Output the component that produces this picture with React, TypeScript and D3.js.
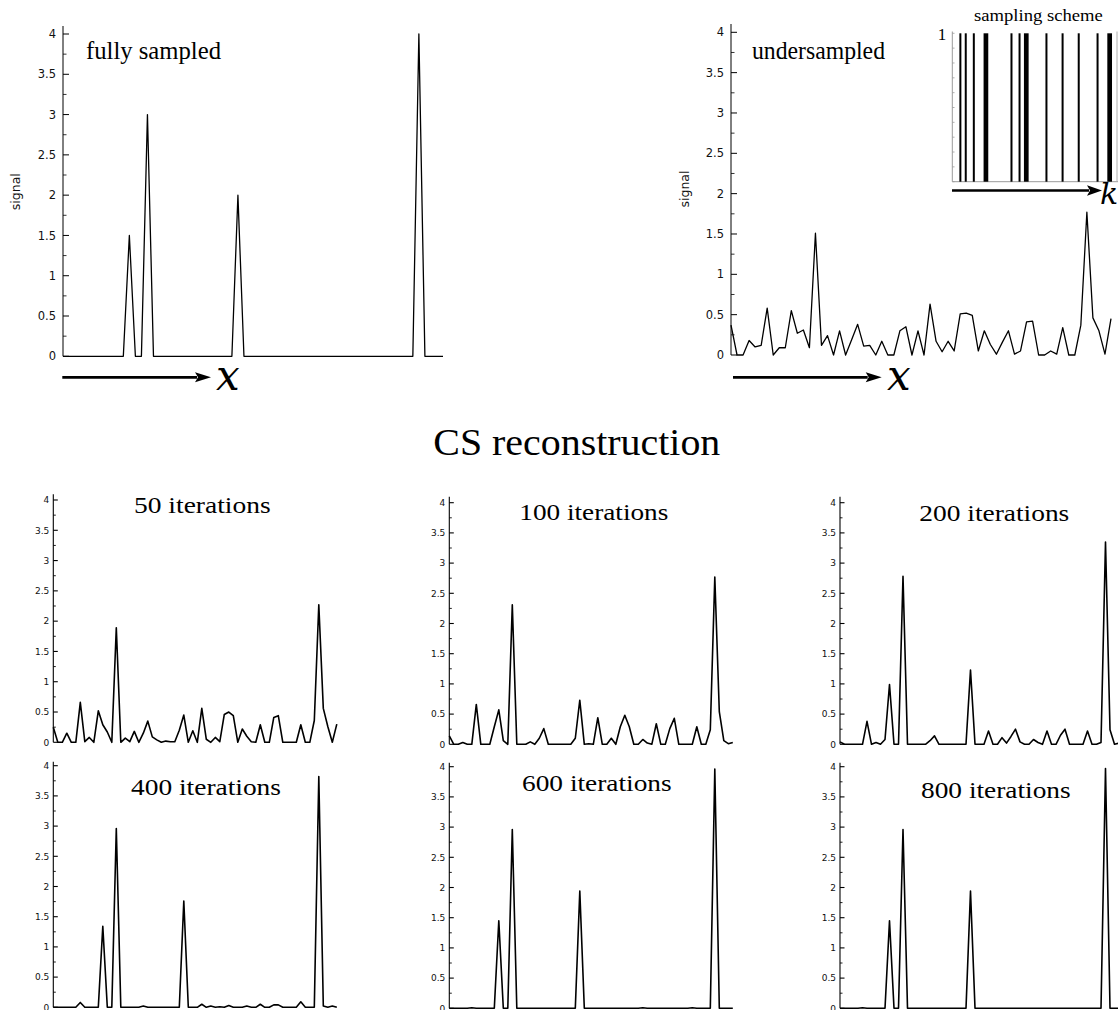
import React from 'react';
import * as d3 from 'd3';

const N = 64;

const fullySampled = [0,0,0,0,0,0,0,0,0,0,0,1.5,0,0,3,0,0,0,0,0,0,0,0,0,0,0,0,0,0,2,0,0,0,0,0,0,0,0,0,0,0,0,0,0,0,0,0,0,0,0,0,0,0,0,0,0,0,0,0,4,0,0,0,0];
const undersampled = [0.37,0,0,0.18,0.1,0.12,0.58,0,0.09,0.09,0.55,0.27,0.31,0.09,1.51,0.12,0.24,0,0.3,0,0.19,0.38,0.11,0.12,0,0.17,0,0,0.3,0.35,0,0.3,0,0.63,0.17,0.04,0.17,0.05,0.51,0.52,0.49,0.05,0.3,0.13,0.01,0.16,0.3,0.01,0.05,0.41,0.42,0,0,0.05,0.01,0.34,0,0,0.37,1.77,0.46,0.3,0.01,0.45];
const iter50 = [0.25,0,0,0.15,0,0,0.66,0.01,0.08,0,0.52,0.29,0.17,0,1.89,0,0.07,0.01,0.18,0,0.15,0.35,0.09,0.04,0,0.02,0.01,0.01,0.2,0.45,0,0.19,0,0.56,0.05,0,0.08,0.01,0.46,0.5,0.44,0,0.22,0.1,0.01,0,0.29,0,0,0.41,0.44,0,0,0,0,0.29,0,0,0.36,2.27,0.56,0.26,0,0.3];
const iter100 = [0.14,0,0,0.03,0,0,0.66,0,0,0,0.29,0.57,0.06,0,2.31,0,0,0,0.04,0,0.1,0.26,0,0,0,0,0,0,0.1,0.73,0,0.01,0,0.44,0,0,0.1,0,0.29,0.48,0.29,0,0,0.08,0.02,0,0.34,0,0,0.26,0.43,0,0,0,0,0.29,0,0,0.24,2.77,0.54,0.06,0.01,0.03];
const iter200 = [0.04,0,0,0,0,0,0.38,0,0.03,0,0.08,0.99,0,0,2.78,0,0,0,0,0,0.06,0.14,0,0,0,0,0,0,0,1.23,0,0,0,0.22,0,0,0.11,0.02,0.13,0.25,0.04,0,0,0.08,0.03,0,0.22,0,0,0.15,0.25,0,0,0,0,0.22,0,0,0.03,3.35,0.24,0,0.02,0];
const iter400 = [0,0,0,0,0,0,0.08,0,0,0,0,1.34,0,0,2.96,0,0,0,0,0,0.02,0,0,0,0,0,0,0,0,1.76,0,0,0,0.05,0,0.02,0,0.01,0,0.03,0,0,0,0.02,0,0,0.05,0,0,0.04,0.04,0,0,0,0,0.09,0,0,0,3.82,0.02,0,0.02,0];
const iter600 = [0,0,0,0,0,0.01,0,0,0,0,0,1.45,0,0,2.96,0,0,0,0,0,0,0,0,0,0,0,0,0,0,1.94,0,0,0,0,0,0,0,0,0,0,0,0,0,0.01,0,0,0,0,0,0,0,0,0,0,0.01,0,0,0,0,3.96,0,0,0,0];
const iter800 = [0,0,0,0,0,0.01,0,0,0,0,0,1.45,0,0,2.96,0,0,0,0,0,0,0,0,0,0,0,0,0,0,1.94,0,0,0,0,0,0,0,0,0,0,0,0,0,0,0,0,0,0,0,0,0,0,0,0,0,0,0,0,0,3.97,0,0,0,0];

const sampledK = [3,5,8,12,13,22,25,27,28,35,41,47,54,58,59];

const yMajor = [0,0.5,1,1.5,2,2.5,3,3.5,4];
const yMajorLabels = ["0","0.5","1","1.5","2","2.5","3","3.5","4"];
const yMinor = [0.25,0.75,1.25,1.75,2.25,2.75,3.25,3.75];
const insetTicks = [0,0.1,0.2,0.3,0.4,0.5,0.6,0.7,0.8,0.9,1];

const SANS = "'DejaVu Sans', sans-serif";
const SERIF = "'Liberation Serif', serif";
const ITALIC = "'DejaVu Serif', serif";

type PanelProps = {
  values: number[]; x0: number; x1: number; yZero: number; yFour: number; axisTop: number;
  fontSize: number; majorLen: number; minorLen: number; labelGap: number; lineWidth: number; axisWidth: number;
};

function SignalPanel(p: PanelProps) {
  const x = d3.scaleLinear().domain([0, N - 1]).range([p.x0, p.x1]);
  const y = d3.scaleLinear().domain([0, 4]).range([p.yZero, p.yFour]);
  const line = d3.line<number>().x((_, i) => x(i)).y(d => y(d));
  return (
    <g>
      <line x1={p.x0} x2={p.x0} y1={p.axisTop} y2={p.yZero} stroke="#000" strokeWidth={p.axisWidth} />
      {yMajor.map((t, i) => (
        <g key={'M' + t}>
          <line x1={p.x0} x2={p.x0 + p.majorLen} y1={y(t)} y2={y(t)} stroke="#000" strokeWidth={p.axisWidth} />
          <text x={p.x0 - p.labelGap} y={y(t)} dy="0.36em" textAnchor="end" fontSize={p.fontSize} fontFamily={SANS} fill="#111">{yMajorLabels[i]}</text>
        </g>
      ))}
      {yMinor.map(t => (
        <line key={'m' + t} x1={p.x0} x2={p.x0 + p.minorLen} y1={y(t)} y2={y(t)} stroke="#000" strokeWidth={p.axisWidth * 0.8} />
      ))}
      <path d={line(p.values) || ''} fill="none" stroke="#000" strokeWidth={p.lineWidth} strokeLinejoin="round" />
    </g>
  );
}

function Arrow({ x1, tip, y, headLen, headHalf, width }: { x1: number; tip: number; y: number; headLen: number; headHalf: number; width: number }) {
  return (
    <g>
      <line x1={x1} x2={tip - headLen + 2} y1={y} y2={y} stroke="#000" strokeWidth={width} />
      <path d={`M${tip},${y} L${tip - headLen},${y - headHalf} L${tip - headLen + 3},${y} L${tip - headLen},${y + headHalf} Z`} fill="#000" />
    </g>
  );
}

function Inset() {
  const x = d3.scaleLinear().domain([0, N - 1]).range([952.3, 952.3 + 63 * 2.69]);
  const y = d3.scaleLinear().domain([0, 1]).range([181.7, 33.3]);
  const runs: [number, number][] = [];
  sampledK.forEach(k => {
    const last = runs[runs.length - 1];
    if (last && k === last[1] + 1) last[1] = k; else runs.push([k, k]);
  });
  return (
    <g>
      <line x1={952.3} x2={952.3} y1={31.5} y2={181.7} stroke="#9a9a9a" strokeWidth={1} />
      <line x1={952.3} x2={1118} y1={181.7} y2={181.7} stroke="#9a9a9a" strokeWidth={1} />
      <line x1={1117} x2={1117} y1={31.5} y2={181.7} stroke="#b0b0b0" strokeWidth={1} />
      {insetTicks.map(t => (
        <line key={t} x1={952.3} x2={954.5} y1={y(t)} y2={y(t)} stroke="#9a9a9a" strokeWidth={0.8} />
      ))}
      {runs.map(([a, b]) => (
        <rect key={a} x={x(a) - 1} y={y(1)} width={x(b) - x(a) + 2} height={y(0) - y(1)} fill="#000" />
      ))}
      <text x={942} y={40} textAnchor="middle" fontSize={17} fontFamily={SERIF}>1</text>
      <text x={974} y={21} fontSize={16} fontFamily={SERIF} textLength={128.7} lengthAdjust="spacingAndGlyphs">sampling scheme</text>
      <Arrow x1={952} tip={1102} y={190.5} headLen={15} headHalf={5.3} width={2.7} />
      <text x={1100} y={204} fontSize={30} fontStyle="italic" fontFamily={ITALIC}>k</text>
    </g>
  );
}

const topCommon = { fontSize: 11.5, majorLen: 6, minorLen: 3.5, labelGap: 7, lineWidth: 1.3, axisWidth: 1 };
const botCommon = { fontSize: 9, majorLen: 4.5, minorLen: 2.5, labelGap: 4, lineWidth: 1.6, axisWidth: 1.1 };
const bw = 63 * 4.5;

const titles = [
  { text: "50 iterations", x: 134, y: 512.7, len: 136.7 },
  { text: "100 iterations", x: 519.3, y: 520, len: 149 },
  { text: "200 iterations", x: 919.3, y: 520.5, len: 150 },
  { text: "400 iterations", x: 131, y: 794.5, len: 150 },
  { text: "600 iterations", x: 522, y: 790.8, len: 149.7 },
  { text: "800 iterations", x: 921, y: 798.3, len: 149.7 },
];

export default function App() {
  return (
    <svg width={1118} height={1010} style={{ position: 'absolute', left: 0, top: 0, background: '#fff' }}>
      <rect width={1118} height={1010} fill="#fff" />
      <SignalPanel values={fullySampled} x0={63} x1={443} yZero={356.3} yFour={34} axisTop={26} {...topCommon} />
      <text x={86} y={59} fontSize={25} fontFamily={SERIF} textLength={135} lengthAdjust="spacingAndGlyphs">fully sampled</text>
      <text transform="translate(19.5,191.7) rotate(-90)" textAnchor="middle" fontSize={12.5} fontFamily={SANS} fill="#111">signal</text>
      <Arrow x1={62.3} tip={211} y={377.3} headLen={16} headHalf={5} width={2.7} />
      <text x={216} y={390} fontSize={42} fontStyle="italic" fontFamily={ITALIC}>x</text>

      <SignalPanel values={undersampled} x0={731} x1={1111} yZero={355} yFour={32.3} axisTop={24} {...topCommon} />
      <text x={752} y={59} fontSize={25} fontFamily={SERIF} textLength={133} lengthAdjust="spacingAndGlyphs">undersampled</text>
      <text transform="translate(688.5,189) rotate(-90)" textAnchor="middle" fontSize={12.5} fontFamily={SANS} fill="#111">signal</text>
      <Arrow x1={733} tip={881.7} y={377.3} headLen={16} headHalf={5} width={2.7} />
      <text x={887} y={390} fontSize={42} fontStyle="italic" fontFamily={ITALIC}>x</text>
      <Inset />

      <text x={433.3} y={454.5} fontSize={37} fontFamily={SERIF} textLength={287} lengthAdjust="spacingAndGlyphs">CS reconstruction</text>

      <SignalPanel values={iter50} x0={53.3} x1={53.3 + bw} yZero={742.3} yFour={500} axisTop={494.3} {...botCommon} />
      <SignalPanel values={iter100} x0={449.3} x1={449.3 + bw} yZero={744.3} yFour={502.7} axisTop={496.7} {...botCommon} />
      <SignalPanel values={iter200} x0={840} x1={840 + bw} yZero={744.3} yFour={502.7} axisTop={496.7} {...botCommon} />
      <SignalPanel values={iter400} x0={53.3} x1={53.3 + bw} yZero={1007.3} yFour={765.7} axisTop={761.7} {...botCommon} />
      <SignalPanel values={iter600} x0={449.3} x1={449.3 + bw} yZero={1008.3} yFour={766.7} axisTop={762.7} {...botCommon} />
      <SignalPanel values={iter800} x0={840} x1={840 + bw} yZero={1008.3} yFour={766.7} axisTop={762.7} {...botCommon} />
      {titles.map(t => (
        <text key={t.text} x={t.x} y={t.y} fontSize={24} fontFamily={SERIF} textLength={t.len} lengthAdjust="spacingAndGlyphs">{t.text}</text>
      ))}
    </svg>
  );
}
